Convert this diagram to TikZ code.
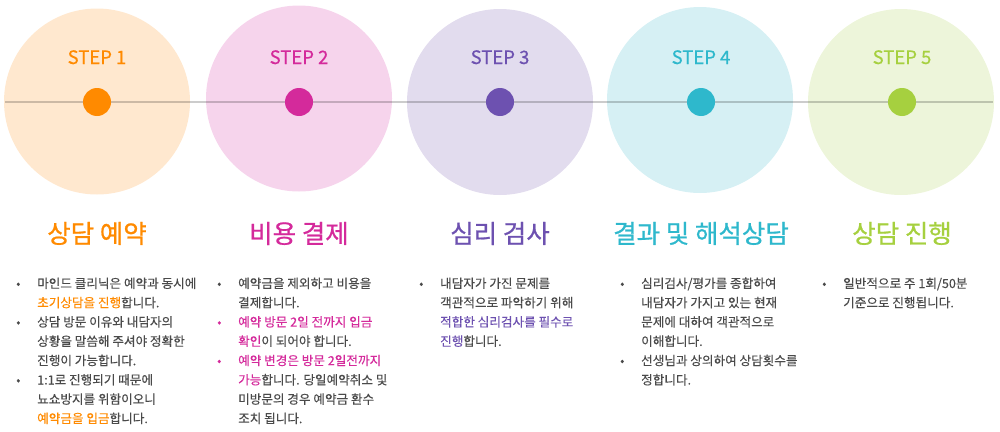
\documentclass[tikz,border=0pt]{standalone}
\usepackage{fontspec}
\setmainfont{Noto Sans CJK KR}
\newfontfamily\headfont{Noto Sans CJK KR}[FakeBold=0.8]
\newfontfamily\labfont{Noto Sans CJK KR}[FakeBold=0.5]
\newfontfamily\bodyfont{Noto Sans CJK KR}[FakeBold=0.25]
\usepackage{xcolor}
\usepackage{array}
\usepackage{tikz}
\usetikzlibrary{positioning}
\definecolor{orangeA}{HTML}{FF8A00}
\definecolor{magentaA}{HTML}{D42A9B}
\definecolor{purpleA}{HTML}{6D51B0}
\definecolor{cyanA}{HTML}{2EB8CC}
\definecolor{greenA}{HTML}{A6D03F}
\definecolor{orangeL}{HTML}{FFE8CF}
\definecolor{magentaL}{HTML}{F6D4EC}
\definecolor{purpleL}{HTML}{E2DCEE}
\definecolor{cyanL}{HTML}{D6F0F4}
\definecolor{greenL}{HTML}{EDF5DA}
\definecolor{bodygray}{HTML}{4A4A4A}
\newcommand{\hl}[2]{\textcolor{#1}{#2}}
\newcommand{\bul}{•}

\begin{document}
\begin{tikzpicture}[x=1pt, y=-1pt,
  disc/.style={circle, minimum size=186pt, inner sep=0pt},
  dot/.style={circle, minimum size=28pt, inner sep=0pt},
  steplabel/.style={anchor=base, font=\labfont\fontsize{18.5}{22}\selectfont},
  title/.style={anchor=base, font=\headfont\fontsize{25.5}{30}\selectfont},
  body/.style={anchor=base west, inner sep=0pt, text=bodygray, font=\bodyfont\fontsize{12.6}{19.3}\selectfont},
  axis/.style={draw=black, draw opacity=0.2, line width=1.1pt}
]
\useasboundingbox (0,0) rectangle (1000,431);

% Big circles
\foreach \i/\cx/\cy/\fc in {1/97/101.5/orangeL, 2/299/98.5/magentaL, 3/500/102/purpleL, 4/700/100/cyanL, 5/901/102/greenL}
  \node[disc, fill=\fc] (disc\i) at (\cx,\cy) {};

% Time line
\coordinate (lineL) at (5,102);
\coordinate (lineR) at (993,102);
\draw[axis] (lineL) -- (lineR);

% Dots, step labels and titles
\foreach \i/\cx/\mc/\name in {1/97/orangeA/상담 예약, 2/299/magentaA/비용 결제, 3/500/purpleA/심리 검사, 4/701/cyanA/결과 및 해석상담, 5/902/greenA/상담 진행} {
  \node[dot, fill=\mc] (dot\i) at (\cx,102) {};
  \node[steplabel, text=\mc] (lab\i) at (\cx,64) {STEP \i};
  \node[title, text=\mc] (title\i) at (\cx,243) {\name};
}

% Step 1
\node[body] (txt1) at (16,288) {\begin{tabular}[t]{@{}p{21pt}@{}l@{}}
\bul & 마인드 클리닉은 예약과 동시에\\
 & \hl{orangeA}{초기상담을 진행}합니다.\\
\bul & 상담 방문 이유와 내담자의\\
 & 상황을 말씀해 주셔야 정확한\\
 & 진행이 가능합니다.\\
\bul & 1:1로 진행되기 때문에\\
 & 뇨쇼방지를 위함이오니\\
 & \hl{orangeA}{예약금을 입금}합니다.
\end{tabular}};

% Step 2
\node[body] (txt2) at (217,288) {\begin{tabular}[t]{@{}p{21pt}@{}l@{}}
\bul & 예약금을 제외하고 비용을\\
 & 결제합니다.\\
\hl{magentaA}{\bul} & \hl{magentaA}{예약 방문 2일 전까지 입금}\\
 & \hl{magentaA}{확인}이 되어야 합니다.\\
\hl{magentaA}{\bul} & \hl{magentaA}{예약 변경은 방문 2일전까지}\\
 & \hl{magentaA}{가능}합니다. 당일예약취소 및\\
 & 미방문의 경우 예약금 환수\\
 & 조치 됩니다.
\end{tabular}};

% Step 3
\node[body] (txt3) at (419,288) {\begin{tabular}[t]{@{}p{21pt}@{}l@{}}
\bul & 내담자가 가진 문제를\\
 & 객관적으로 파악하기 위해\\
 & \hl{purpleA}{적합한 심리검사를 필수로}\\
 & \hl{purpleA}{진행}합니다.
\end{tabular}};

% Step 4
\node[body] (txt4) at (620,288) {\begin{tabular}[t]{@{}p{21pt}@{}l@{}}
\bul & 심리검사/평가를 종합하여\\
 & 내담자가 가지고 있는 현재\\
 & 문제에 대하여 객관적으로\\
 & 이해합니다.\\
\bul & 선생님과 상의하여 상담횟수를\\
 & 정합니다.
\end{tabular}};

% Step 5
\node[body] (txt5) at (822,288) {\begin{tabular}[t]{@{}p{21pt}@{}l@{}}
\bul & 일반적으로 주 1회/50분\\
 & 기준으로 진행됩니다.
\end{tabular}};

\end{tikzpicture}
\end{document}
